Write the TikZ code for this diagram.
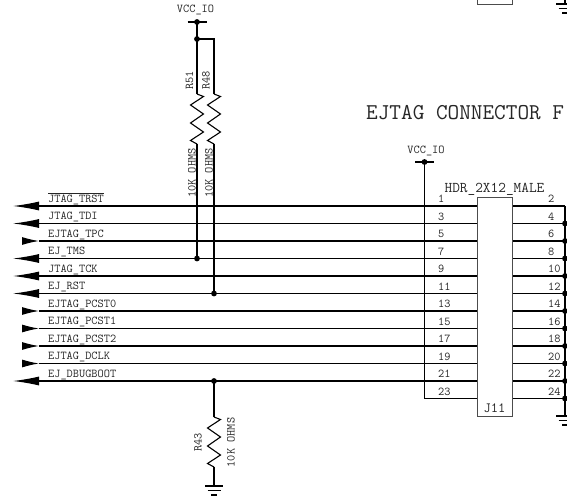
\documentclass[tikz,border=0pt]{standalone}
\usepackage{fontspec}
\usepackage{tikz}
\usetikzlibrary{arrows.meta}
\usetikzlibrary{positioning}
\tikzset{
	wire/.style={line width=1.1pt, black},
	part/.style={line width=0.9pt, black!70},
	lbl/.style={font=\ttfamily\fontsize{12}{13}\selectfont, text=black!85, inner sep=0pt},
	pinout/.style={-{Latex[length=26pt, width=9pt]}},
	pinin/.style={-{Latex[length=17pt, width=8pt]}},
	dot/.style={circle, fill=black, inner sep=0pt, minimum size=5.8pt},
	resistor/.pic={
		\draw[wire] (0,0) -- (6.5,2.5) -- (-6.5,11) -- (6.5,20) -- (-6.5,29) -- (6.5,38) -- (-6.5,46.5) -- (0,50);
	},
	gnd/.pic={
		\draw[wire] (-9,0) -- (9,0);
		\draw[wire] (-6.5,4.5) -- (6.5,4.5);
		\draw[wire] (-3,9) -- (3,9);
	},
	vcc/.pic={
		\draw[wire] (-9.5,0) -- (9.5,0);
		\fill (0,0) circle (2.9pt);
	}
}

\begin{document}
\begin{tikzpicture}[x=1pt, y=-1pt]
	\clip[use as bounding box] (0,0) rectangle (567,497);
	% signals on the left
	\foreach \sig/\way [count=\k from 0, evaluate=\k as \ypin using {206+17.5*\k}] in
		{{$\overline{\mbox{JTAG\_TRST}}$}/out, JTAG\_TDI/out, EJTAG\_TPC/in, EJ\_TMS/out, JTAG\_TCK/out, EJ\_RST/out,
		 EJTAG\_PCST0/in, EJTAG\_PCST1/in, EJTAG\_PCST2/in, EJTAG\_DCLK/in, EJ\_DBUGBOOT/out} {
		\coordinate (sig\k) at (39,\ypin);
		\coordinate (jl\k) at (477,\ypin);
		\node[lbl, anchor=base west] (name\k) at (48,\ypin-4) {\sig};
		\draw[wire] (jl\k) -- (sig\k);
		\ifnum\pdfstrcmp{\way}{out}=0
			\coordinate (tip\k) at (13,\ypin);
			\draw[wire, pinout] (sig\k) ++(1,0) -- (tip\k);
		\else
			\coordinate (tip\k) at (22,\ypin);
			\draw[wire, pinin] (tip\k) -- (sig\k);
		\fi
	}
	% header
	\foreach \k [evaluate=\k as \ypin using {206+17.5*\k}, evaluate=\k as \podd using {int(2*\k+1)}, evaluate=\k as \peven using {int(2*\k+2)}] in {0,...,11} {
		\coordinate (jl\k) at (477,\ypin);
		\coordinate (jr\k) at (512,\ypin);
		\coordinate (bus\k) at (565,\ypin);
		\draw[wire] (jr\k) -- (bus\k);
		\node[lbl, anchor=base west] (podd\k) at (438,\ypin-3.5) {\podd};
		\node[lbl, anchor=base west] (peven\k) at (548,\ypin-3.5) {\peven};
	}
	\foreach \k in {1,...,11} {
		\node[dot] (busdot\k) at (bus\k) {};
	}
	\draw[part] (477,197) rectangle (512,416);
	\coordinate (gndj) at (565,416);
	\draw[wire] (bus0) -- (gndj);
	\pic at (gndj) {gnd};
	\node[lbl, font=\ttfamily\fontsize{14.9}{16}\selectfont, anchor=base] (hdr) at (494.5,193) {HDR\_2X12\_MALE};
	\node[lbl, font=\ttfamily\fontsize{14.1}{16}\selectfont] (j11) at (494.5,408) {J11};
	% vcc on the header
	\coordinate (vccj) at (424.5,162);
	\coordinate (pin23) at (424.5,398.5);
	\pic at (vccj) {vcc};
	\draw[wire] (vccj) -- (pin23) -- (jl11);
	\node[lbl] (vcctxt) at (426,150.5) {VCC\_IO};
	% R51 and R48
	\coordinate (vcct) at (197,22);
	\coordinate (tee) at (197,39);
	\coordinate (r48t) at (214,39);
	\coordinate (r51z) at (197,94);
	\coordinate (r48z) at (214,94);
	\coordinate (r51b) at (197,144);
	\coordinate (r48b) at (214,144);
	\pic at (vcct) {vcc};
	\node[lbl] (vcctxt2) at (195.5,10) {VCC\_IO};
	\draw[wire] (vcct) -- (r51z);
	\draw[wire] (tee) -- (r48t) -- (r48z);
	\node[dot] (teedot) at (tee) {};
	\pic at (r51z) {resistor};
	\pic at (r48z) {resistor};
	\coordinate (tms) at (sig3 -| r51b);
	\coordinate (rst) at (sig5 -| r48b);
	\draw[wire] (r51b) -- (tms);
	\draw[wire] (r48b) -- (rst);
	\node[dot] (tmsdot) at (tms) {};
	\node[dot] (rstdot) at (rst) {};
	\node[lbl, rotate=90] (r51) at (189.5,80.5) {R51};
	\node[lbl, rotate=90] (r48) at (206,80.5) {R48};
	\node[lbl, rotate=90] (ohm51) at (192,173) {10K OHMS};
	\node[lbl, rotate=90] (ohm48) at (209,173) {10K OHMS};
	% R43
	\coordinate (dbg) at (sig10 -| r48b);
	\coordinate (r43z) at (214,417);
	\coordinate (r43b) at (214,467);
	\coordinate (gndr) at (214,486);
	\node[dot] (dbgdot) at (dbg) {};
	\draw[wire] (dbg) -- (r43z);
	\pic at (r43z) {resistor};
	\draw[wire] (r43b) -- (gndr);
	\pic at (gndr) {gnd};
	\node[lbl, rotate=90] (r43) at (198,442.5) {R43};
	\node[lbl, rotate=90] (ohm43) at (231,442.5) {10K OHMS};
	% cut off at the top and on the right
	\draw[part] (477,-5) -- (477,4.5) -- (512,4.5) -- (512,-5);
	\coordinate (gndtop) at (565,4);
	\draw[wire] (565,-5) -- (gndtop);
	\pic at (gndtop) {gnd};
	\node[lbl, font=\ttfamily\fontsize{22.6}{24}\selectfont, anchor=base west] (title) at (366,119.5) {EJTAG CONNECTOR F};
\end{tikzpicture}
\end{document}
